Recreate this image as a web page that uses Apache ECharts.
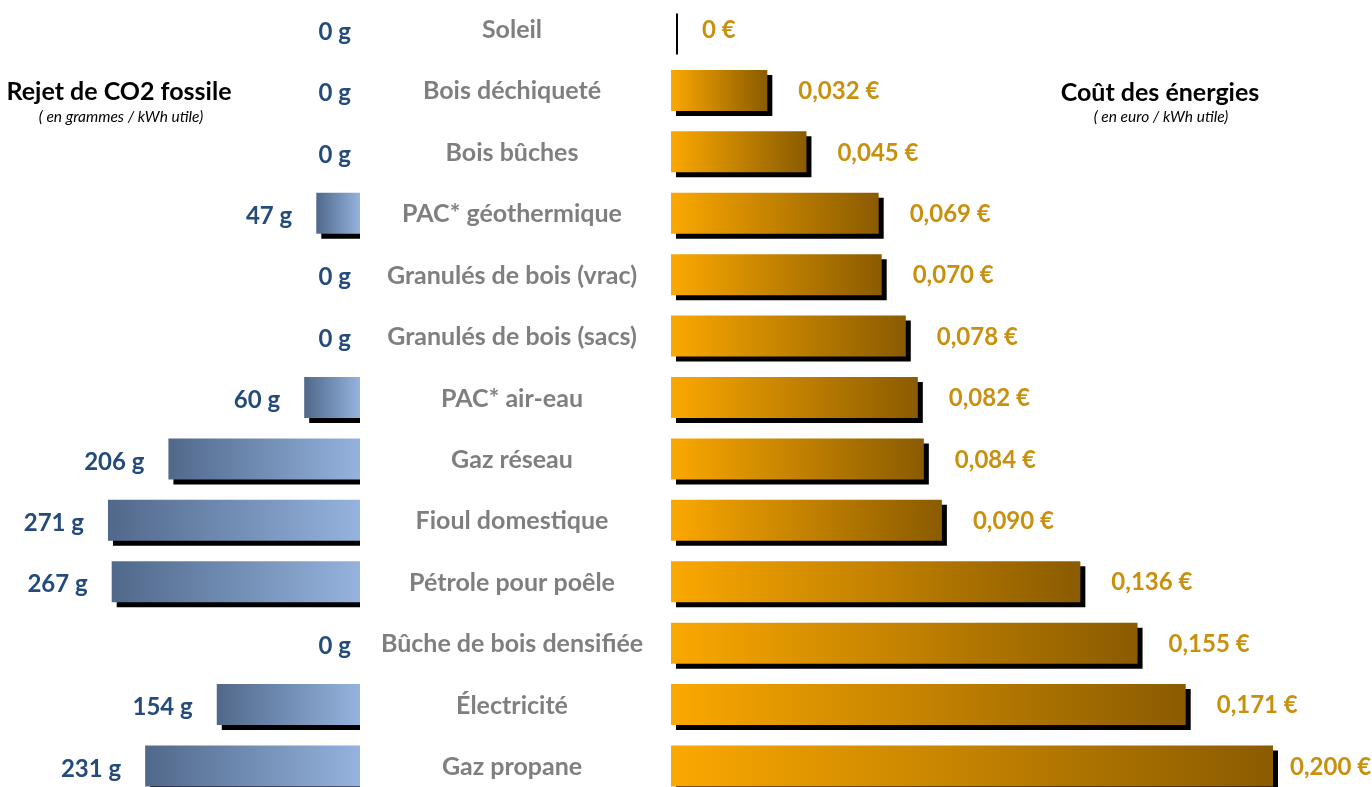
<!DOCTYPE html>
<html>
<head>
<meta charset="utf-8">
<script src="https://cdn.jsdelivr.net/npm/echarts@6/dist/echarts.min.js"></script>
<style>
html,body{margin:0;padding:0;background:#fff;}
#chart{width:1372px;height:787px;}
</style>
</head>
<body>
<div id="chart"></div>
<script>
const categories = ['Soleil','Bois déchiqueté','Bois bûches','PAC* géothermique','Granulés de bois (vrac)','Granulés de bois (sacs)','PAC* air-eau','Gaz réseau','Fioul domestique','Pétrole pour poêle','Bûche de bois densifiée','Électricité','Gaz propane'];
const co2 = [0,0,0,47,0,0,60,206,271,267,0,154,231];
const cost = [0,0.032,0.045,0.069,0.070,0.078,0.082,0.084,0.090,0.136,0.155,0.171,0.200];
const co2Labels = co2.map(v => v + ' g');
const costLabels = cost.map(v => (v === 0 ? '0' : v.toFixed(3).replace('.', ',')) + ' €');

const FONT = 'Lato, "Open Sans", sans-serif';
const BAR_H = 41;

const chart = echarts.init(document.getElementById('chart'));

function leftItem(params, api) {
  const v = api.value(0), idx = api.value(1);
  const p0 = api.coord([0, idx]);
  const p1 = api.coord([v, idx]);
  const y = p0[1] - BAR_H / 2;
  const xl = p1[0], xr = p0[0];
  const children = [];
  if (v > 0) {
    children.push({type:'rect', shape:{x:xl+5, y:y+5, width:xr-xl-5, height:BAR_H}, style:{fill:'#000'}});
    children.push({type:'rect', shape:{x:xl, y:y, width:xr-xl, height:BAR_H},
      style:{fill:new echarts.graphic.LinearGradient(0,0,1,0,[{offset:0,color:'#50688A'},{offset:1,color:'#95B3DE'}])}});
  }
  children.push({type:'text', style:{text:co2Labels[params.dataIndex], x: v > 0 ? xl - 24 : xr - 9, y: p0[1] + 3,
    align:'right', verticalAlign:'middle', fill:'#244B7C', font:'bold 24px ' + FONT}});
  return {type:'group', children};
}

function rightItem(params, api) {
  const v = api.value(0), idx = api.value(1);
  const p0 = api.coord([0, idx]);
  const p1 = api.coord([v, idx]);
  const y = p0[1] - BAR_H / 2;
  const xl = p0[0], xr = p1[0];
  const children = [];
  children.push({type:'rect', shape:{x:xl+5, y:y+5, width:Math.max(xr-xl, 2), height:BAR_H}, style:{fill:'#000'}});
  if (v > 0) {
    children.push({type:'rect', shape:{x:xl, y:y, width:xr-xl, height:BAR_H},
      style:{fill:new echarts.graphic.LinearGradient(0,0,1,0,[{offset:0,color:'#FBA800'},{offset:1,color:'#8A5B00'}])}});
  }
  children.push({type:'text', style:{text:costLabels[params.dataIndex], x: Math.min(xr + 31, 1290), y: p0[1] + 1,
    align:'left', verticalAlign:'middle', fill:'#C8900C', font:'bold 24px ' + FONT}});
  children.push({type:'text', style:{text:categories[params.dataIndex], x: 512, y: p0[1] + 1,
    align:'center', verticalAlign:'middle', fill:'#7F7F7F', font:'bold 25px ' + FONT}});
  return {type:'group', children};
}

const yAx = (g) => ({gridIndex: g, type: 'value', min: -0.472, max: 12.342, inverse: true, show: false});

chart.setOption({
  animation: false,
  grid: [
    {left: 81, width: 279, top: 0, bottom: 0},
    {left: 671, width: 602, top: 0, bottom: 0}
  ],
  xAxis: [
    {gridIndex: 0, type: 'value', min: 0, max: 300, inverse: true, show: false},
    {gridIndex: 1, type: 'value', min: 0, max: 0.2, show: false}
  ],
  yAxis: [yAx(0), yAx(1)],
  graphic: [
    {type:'text', x:119, y:92, style:{text:'Rejet de CO2 fossile', align:'center', verticalAlign:'middle', fill:'#000', font:'bold 25px ' + FONT}},
    {type:'text', x:121, y:117, style:{text:'( en grammes / kWh utile)', align:'center', verticalAlign:'middle', fill:'#000', font:'italic 15.5px ' + FONT}},
    {type:'text', x:1160, y:93, style:{text:'Coût des énergies', align:'center', verticalAlign:'middle', fill:'#000', font:'bold 25px ' + FONT}},
    {type:'text', x:1161, y:117, style:{text:'( en euro / kWh utile)', align:'center', verticalAlign:'middle', fill:'#000', font:'italic 15.5px ' + FONT}}
  ],
  series: [
    {type:'custom', xAxisIndex:0, yAxisIndex:0, renderItem:leftItem, encode:{x:0, y:1}, clip:false,
     data: co2.map((v, i) => [v, i])},
    {type:'custom', xAxisIndex:1, yAxisIndex:1, renderItem:rightItem, encode:{x:0, y:1}, clip:false,
     data: cost.map((v, i) => [v, i])}
  ]
});
</script>
</body>
</html>
